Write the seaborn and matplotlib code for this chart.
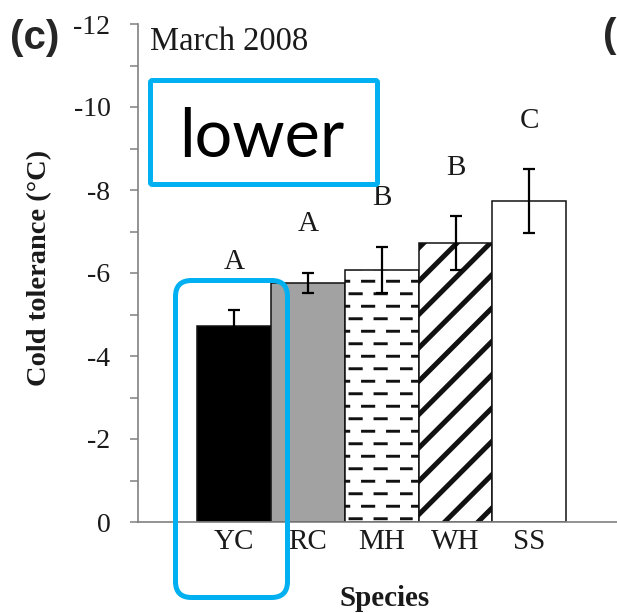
import warnings

import numpy as np
import pandas as pd
import matplotlib
matplotlib.use("Agg")
import matplotlib.pyplot as plt
import matplotlib.hatch as mhatch
from matplotlib.path import Path
from matplotlib.patches import FancyBboxPatch
from matplotlib.transforms import IdentityTransform
from matplotlib.ticker import MultipleLocator
import seaborn as sns

# ---- data -------------------------------------------------------------
species = ["YC", "RC", "MH", "WH", "SS"]
cold_tolerance = [-4.72, -5.77, -6.08, -6.72, -7.73]   # mean, deg C
std_error = [0.38, 0.24, 0.55, 0.65, 0.77]
group_letters = ["A", "A", "B", "B", "C"]
y_ticks = [0, -2, -4, -6, -8, -10, -12]

# ---- styles -----------------------------------------------------------
bar_colors = ["#000000", "#a2a2a2", "#ffffff", "#ffffff", "#ffffff"]
bar_hatches = [None, None, "_", "/", None]
hatch_widths = [None, None, 2.1, 3.6, None]
SERIF = ["Liberation Serif", "DejaVu Serif"]
HILITE = "#00b0f0"


class DashRowHatch(mhatch.HatchPatternBase):
    """'_' fills with staggered rows of short horizontal dashes."""
    rows, dashes, fill = 8, 4, 0.45

    def __init__(self, hatch, density):
        active = hatch.count("_") > 0
        self.num_vertices = 2 * self.rows * self.dashes if active else 0

    def set_vertices_and_codes(self, vertices, codes):
        i = 0
        for r in range(self.rows):
            y = (r + 0.5) / self.rows
            shift = 0.5 * (r % 2)
            for k in range(self.dashes):
                x0 = (k + shift) / self.dashes
                vertices[i] = (x0, y)
                vertices[i + 1] = (x0 + self.fill / self.dashes, y)
                codes[i] = Path.MOVETO
                codes[i + 1] = Path.LINETO
                i += 2


mhatch._hatch_types.append(DashRowHatch)
warnings.filterwarnings("ignore", message=".*hatch must consist.*")

sns.set_style("ticks")
plt.rcParams["font.family"] = SERIF
plt.rcParams["axes.unicode_minus"] = False
plt.rcParams["hatch.linewidth"] = 2.0
plt.rcParams["hatch.color"] = "black"

W, H = 617, 613
fig = plt.figure(figsize=(W / 100, H / 100), dpi=100)
fig.patch.set_facecolor("white")

# axes frame in pixel terms: left spine at x=138, baseline at y=522, top at y=24
ax_left, ax_right, ax_bottom, ax_top = 138, 632, 522, 24
ax = fig.add_axes([ax_left / W, (H - ax_bottom) / H,
                   (ax_right - ax_left) / W, (ax_bottom - ax_top) / H])

df = pd.DataFrame({"species": species, "cold_tolerance": cold_tolerance})
sns.barplot(data=df, x="species", y="cold_tolerance", hue="species",
            palette=bar_colors, saturation=1, width=1.0, errorbar=None,
            legend=False, edgecolor="#111111", linewidth=1.1, ax=ax, zorder=2)

for container, hatch, hlw in zip(ax.containers, bar_hatches, hatch_widths):
    for bar in container:
        if hatch:
            bar.set_hatch(hatch)
            if hasattr(bar, "set_hatch_linewidth"):
                bar.set_hatch_linewidth(hlw)

x_pos = np.arange(len(species))
ax.errorbar(x_pos, cold_tolerance, yerr=std_error, fmt="none",
            ecolor="black", elinewidth=1.6, capsize=4.4, capthick=1.6,
            zorder=4)

for i, letter in enumerate(group_letters):
    ax.text(x_pos[i], cold_tolerance[i] - std_error[i] - 1.0, letter,
            ha="center", va="baseline", fontsize=21, family=SERIF,
            color="#1a1a1a")

ax.set_ylim(0, -12)
ax.set_xlim(-1.3, 5.39)
ax.set_yticks(y_ticks)
ax.set_yticklabels([str(t) for t in y_ticks])
ax.yaxis.set_minor_locator(MultipleLocator(1))

spine_col = "#808080"
for side in ("top", "right"):
    ax.spines[side].set_visible(False)
for side in ("left", "bottom"):
    ax.spines[side].set_color(spine_col)
    ax.spines[side].set_linewidth(1.2)

ax.tick_params(axis="y", which="both", direction="out", length=5.8,
               width=1.1, color=spine_col, pad=14, labelsize=20,
               labelcolor="#1a1a1a")
ax.tick_params(axis="x", length=0, pad=5, labelsize=21, labelcolor="#1a1a1a")

ax.set_xlabel("Species", fontsize=21, fontweight="bold", color="#1a1a1a")
ax.xaxis.label.set_va("baseline")
ax.xaxis.set_label_coords((385 - ax_left) / (ax_right - ax_left),
                          -(606 - ax_bottom) / (ax_bottom - ax_top))
ax.set_ylabel("Cold tolerance (°C)", fontsize=20.5, fontweight="bold",
              color="#1a1a1a")
ax.yaxis.label.set_va("center")
ax.yaxis.set_label_coords(-(ax_left - 40) / (ax_right - ax_left), 0.51)

# panel text
fig.text(35 / W, 1 - 38 / H, "(c)", ha="center", va="center", fontsize=29,
         fontweight="bold", family=["Liberation Sans", "DejaVu Sans"])
fig.text(150 / W, 1 - 50 / H, "March 2008", ha="left", va="baseline",
         fontsize=23.5, family=SERIF, color="#1a1a1a")
fig.text(603 / W, 1 - 36 / H, "(", ha="left", va="center", fontsize=29,
         fontweight="bold", family=["Liberation Sans", "DejaVu Sans"])

# highlight boxes (pixel coordinates, origin bottom-left)
box_lower = FancyBboxPatch((150.5, H - 184.5), 227, 104,
                           boxstyle="round,pad=0,rounding_size=2",
                           transform=IdentityTransform(), fill=False,
                           edgecolor=HILITE, linewidth=3.6, zorder=5)
fig.add_artist(box_lower)
fig.text(262 / W, 1 - 157 / H, "lower", ha="center", va="baseline",
         fontsize=48, family=["Lato", "DejaVu Sans"], color="black",
         zorder=6)

box_yc = FancyBboxPatch((175.5, H - 597.5), 112, 317,
                        boxstyle="round,pad=0,rounding_size=16",
                        transform=IdentityTransform(), fill=False,
                        edgecolor=HILITE, linewidth=3.6, zorder=5)
fig.add_artist(box_yc)

fig.savefig("out.png", dpi=100, facecolor="white")
